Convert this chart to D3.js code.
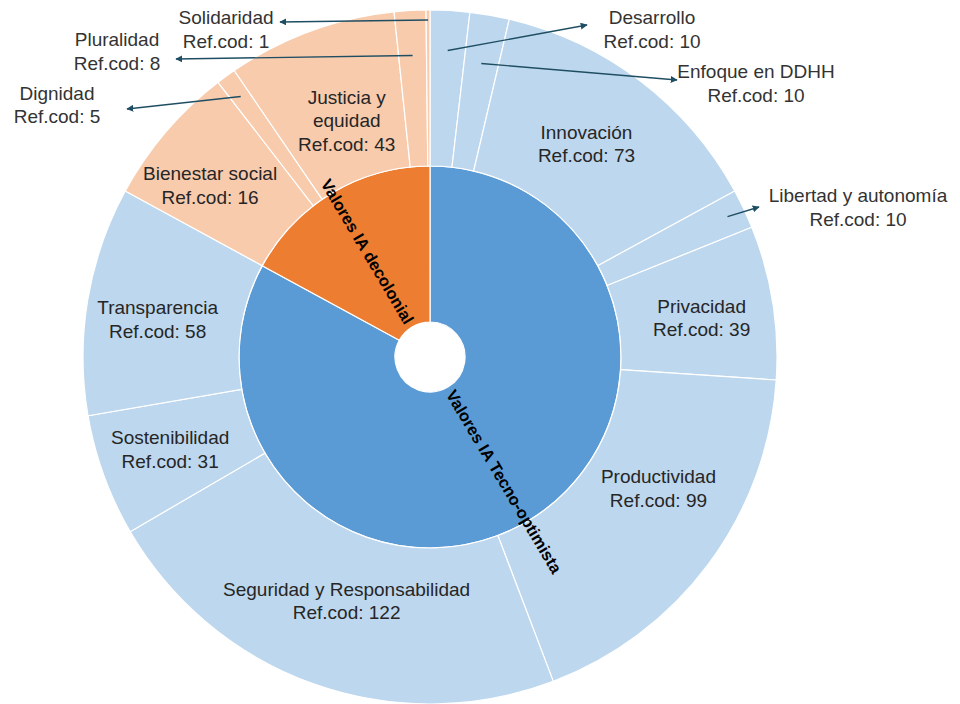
<!DOCTYPE html>
<html>
<head>
<meta charset="utf-8">
<script src="https://cdn.jsdelivr.net/npm/d3@7"></script>
<style>
  body { margin: 0; background: #fff; }
  text { font-family: Helvetica, Arial, "Liberation Sans", sans-serif; }
</style>
</head>
<body>
<svg width="960" height="704"></svg>
<script>
// Datos
const grupos = ["Valores IA Tecno-optimista", "Valores IA decolonial"];

const valoresTecno = ["Desarrollo", "Enfoque en DDHH", "Innovación", "Libertad y autonomía", "Privacidad",
  "Productividad", "Seguridad y Responsabilidad", "Sostenibilidad", "Transparencia"];
const refTecno = [10, 10, 73, 10, 39, 99, 122, 31, 58];

const valoresDecolonial = ["Bienestar social", "Dignidad", "Justicia y equidad", "Pluralidad", "Solidaridad"];
const refDecolonial = [16, 5, 43, 8, 1];
// tamaño del arco tal como se ve en la imagen (Bienestar social ocupa ~36 aunque la etiqueta dice 16)
const arcoDecolonial = [36, 5, 43, 8, 1];

const svg = d3.select("svg");
const cx = 430, cy = 357;
const g = svg.append("g").attr("transform", `translate(${cx},${cy})`);

const colores = {
  "Valores IA Tecno-optimista": { inner: "#5b9bd5", outer: "#bdd7ee" },
  "Valores IA decolonial": { inner: "#ed7d31", outer: "#f8cbad" }
};

// Jerarquía
const datos = {
  name: "root",
  children: [
    { name: grupos[0], children: valoresTecno.map((n, i) => ({ name: n, value: refTecno[i], ref: refTecno[i] })) },
    { name: grupos[1], children: valoresDecolonial.map((n, i) => ({ name: n, value: arcoDecolonial[i], ref: refDecolonial[i] })) }
  ]
};

const root = d3.hierarchy(datos).sum(d => d.value || 0);
d3.partition().size([2 * Math.PI, 3])(root);

const radio = d3.scaleLinear().domain([1, 2, 3]).range([35, 191, 347]);

const arc = d3.arc()
  .startAngle(d => d.x0)
  .endAngle(d => d.x1)
  .innerRadius(d => radio(d.y0))
  .outerRadius(d => radio(d.y1));

const nodos = root.descendants().filter(d => d.depth > 0);

g.selectAll("path")
  .data(nodos)
  .join("path")
  .attr("d", arc)
  .attr("fill", d => {
    const grupo = d.depth === 1 ? d.data.name : d.parent.data.name;
    return d.depth === 1 ? colores[grupo].inner : colores[grupo].outer;
  })
  .attr("stroke", "#fff")
  .attr("stroke-width", 1.2);

// Etiquetas del anillo interior (rotadas a lo largo del radio)
const grad = a => a * 180 / Math.PI;
root.children.forEach(d => {
  const a = grad((d.x0 + d.x1) / 2);
  const haciaFuera = d.data.name === grupos[0];
  const r = 40;
  const rad = a * Math.PI / 180;
  const x = r * Math.sin(rad), y = -r * Math.cos(rad);
  g.append("text")
    .attr("transform", `translate(${x},${y}) rotate(${haciaFuera ? a - 90 : a + 90})`)
    .attr("text-anchor", haciaFuera ? "start" : "end")
    .attr("dy", "0.35em")
    .attr("font-size", 16.5)
    .attr("font-weight", "bold")
    .attr("fill", "#000")
    .text(d.data.name);
});

// Etiquetas del anillo exterior
const interiores = ["Innovación", "Privacidad", "Productividad", "Seguridad y Responsabilidad",
  "Sostenibilidad", "Transparencia", "Bienestar social", "Justicia y equidad"];
const saltos = { "Justicia y equidad": ["Justicia y", "equidad"] };
const ajuste = {
  "Innovación": [-6, 0],
  "Productividad": [13, -28],
  "Seguridad y Responsabilidad": [6, -9],
  "Sostenibilidad": [-8, 1],
  "Bienestar social": [-16, 2],
  "Justicia y equidad": [9, 15],
  "Privacidad": [7, 3],
  "Transparencia": [-8, 6]
};
const interlinea = 23.5;

const hojas = root.leaves();

function lineas(d) {
  return (saltos[d.data.name] || [d.data.name]).concat([`Ref.cod: ${d.data.ref}`]);
}

function escribir(x, y, ls, color) {
  const t = g.append("text")
    .attr("text-anchor", "middle")
    .attr("font-size", 19)
    .attr("fill", color);
  const y0 = y - (ls.length - 1) * interlinea / 2;
  ls.forEach((l, i) => {
    t.append("tspan").attr("x", x).attr("y", y0 + i * interlinea).attr("dy", "0.35em").text(l);
  });
}

hojas.filter(d => interiores.includes(d.data.name)).forEach(d => {
  const a = (d.x0 + d.x1) / 2;
  const r = 268;
  const [dx, dy] = ajuste[d.data.name] || [0, 0];
  escribir(r * Math.sin(a) + dx, -r * Math.cos(a) + dy, lineas(d), "#262626");
});

// Etiquetas exteriores con flecha
const llamadas = {
  "Solidaridad": { r: 337, tip: [280, 22], txt: [226, 29.5] },
  "Pluralidad": { r: 302, tip: [176, 59], txt: [117, 51.5] },
  "Dignidad": { r: 322, tip: [127, 109], txt: [57, 105] },
  "Desarrollo": { r: 307, tip: [587, 25], txt: [652, 29.5] },
  "Enfoque en DDHH": { r: 298, tip: [677, 80], txt: [756, 83.5] },
  "Libertad y autonomía": { r: 329, tip: [759, 207], txt: [858, 207.5] }
};

svg.append("defs").append("marker")
  .attr("id", "punta")
  .attr("viewBox", "0 0 10 10")
  .attr("refX", 9).attr("refY", 5)
  .attr("markerWidth", 5).attr("markerHeight", 5)
  .attr("markerUnits", "strokeWidth")
  .attr("orient", "auto")
  .append("path")
  .attr("d", "M0,0L10,5L0,10Z")
  .attr("fill", "#1f4e63");

hojas.filter(d => llamadas[d.data.name]).forEach(d => {
  const c = llamadas[d.data.name];
  const a = (d.x0 + d.x1) / 2;
  g.append("line")
    .attr("x1", c.r * Math.sin(a))
    .attr("y1", -c.r * Math.cos(a))
    .attr("x2", c.tip[0] - cx)
    .attr("y2", c.tip[1] - cy)
    .attr("stroke", "#1f4e63")
    .attr("stroke-width", 1.4)
    .attr("marker-end", "url(#punta)");
  escribir(c.txt[0] - cx, c.txt[1] - cy, lineas(d), "#333");
});
</script>
</body>
</html>
